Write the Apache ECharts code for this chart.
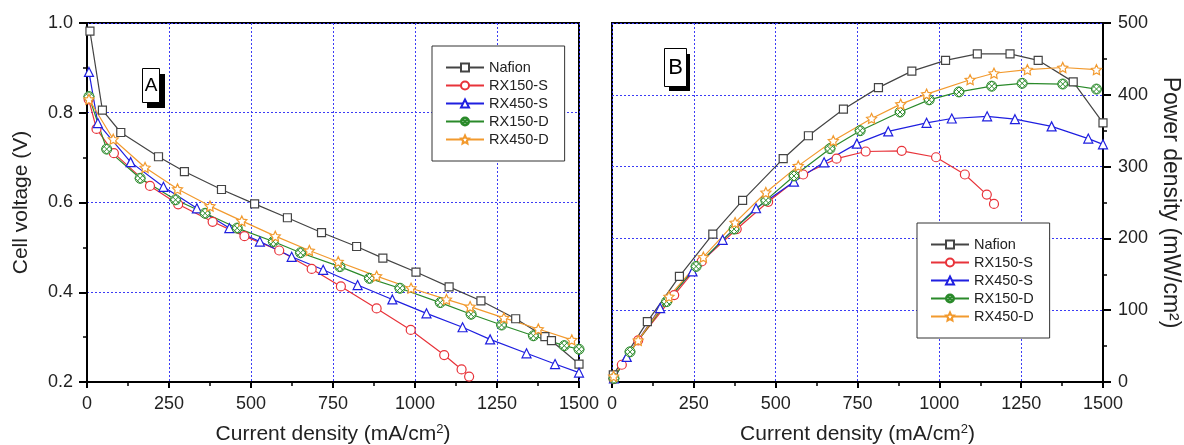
<!DOCTYPE html>
<html>
<head>
<meta charset="utf-8">
<script src="https://cdn.jsdelivr.net/npm/echarts@6/dist/echarts.min.js"></script>
<style>
  html, body { margin: 0; padding: 0; background: #fff; }
  #chart { width: 1184px; height: 445px; }
</style>
</head>
<body>
<div id="chart"></div>
<script>
// polarization curves (current density mA/cm2, cell voltage V)
var nafionV = [[9,0.982],[47,0.806],[103,0.756],[218,0.702],[297,0.669],[410,0.629],[511,0.597],[611,0.566],[715,0.533],[822,0.502],[902,0.476],[1003,0.445],[1104,0.412],[1201,0.381],[1307,0.341],[1396,0.301],[1416,0.292],[1500,0.240]];
var rx150sV = [[5,0.830],[29,0.764],[82,0.710],[192,0.637],[278,0.596],[383,0.557],[480,0.525],[586,0.493],[685,0.452],[774,0.413],[883,0.364],[987,0.316],[1089,0.260],[1142,0.228],[1165,0.212]];
var rx450sV = [[6,0.891],[33,0.777],[133,0.690],[233,0.635],[335,0.587],[434,0.543],[527,0.513],[624,0.479],[720,0.450],[825,0.416],[931,0.384],[1035,0.353],[1145,0.322],[1229,0.295],[1340,0.264],[1427,0.240],[1500,0.221]];
var rx150dV = [[6,0.836],[60,0.719],[162,0.654],[270,0.606],[360,0.576],[458,0.543],[568,0.513],[651,0.488],[771,0.457],[861,0.431],[954,0.409],[1077,0.377],[1171,0.351],[1264,0.327],[1361,0.303],[1455,0.281],[1500,0.273]];
var rx450dV = [[6,0.830],[80,0.741],[177,0.678],[276,0.630],[375,0.592],[472,0.559],[574,0.525],[678,0.493],[766,0.468],[883,0.436],[988,0.409],[1096,0.384],[1168,0.368],[1271,0.343],[1376,0.318],[1478,0.294]];

// power density curves (current density mA/cm2, mW/cm2)
var nafionP = [[4,10],[108,84],[206,147],[308,206],[399,253],[523,311],[600,343],[707,380],[814,410],[916,433],[1019,448],[1116,457],[1216,457],[1302,448],[1409,418],[1500,361]];
var rx150sP = [[5,4],[30,24],[80,58],[190,121],[274,168],[381,213],[477,251],[584,289],[686,311],[775,321],[885,322],[990,313],[1078,289],[1145,261],[1167,248]];
var rx450sP = [[6,5],[45,35],[147,103],[246,154],[338,198],[440,242],[556,279],[648,306],[748,332],[844,349],[961,361],[1038,367],[1146,370],[1231,366],[1343,356],[1455,339],[1500,331]];
var rx150dP = [[6,5],[55,42],[167,112],[257,161],[373,213],[470,253],[556,287],[666,325],[758,350],[880,376],[969,393],[1060,404],[1160,412],[1253,416],[1377,415],[1480,408]];
var rx450dP = [[5,8],[80,58],[174,119],[279,174],[376,222],[470,264],[569,301],[676,336],[793,367],[882,387],[961,401],[1094,421],[1167,430],[1269,435],[1377,438],[1480,435]];

var names = ['Nafion', 'RX150-S', 'RX450-S', 'RX150-D', 'RX450-D'];
var xTicks = [0, 250, 500, 750, 1000, 1250, 1500];

var FONT = '"Liberation Sans", Arial, sans-serif';
var starPath = 'path://M0,-10 L2.9,-4 L9.5,-3.1 L4.7,1.5 L5.9,8.1 L0,5 L-5.9,8.1 L-4.7,1.5 L-9.5,-3.1 L-2.9,-4 Z';
var hatchPath = 'path://M10,0 A10,10 0 1,1 -10,0 A10,10 0 1,1 10,0 Z M-7,-7 L7,7 M-7,7 L7,-7 M0,-10 L10,0 M-10,0 L0,10 M0,-10 L-10,0 M10,0 L0,10';

var styles = {
    'Nafion':  { color: '#444444', symbol: 'rect', size: 8, bw: 1.2 },
    'RX150-S': { color: '#e8333a', symbol: 'circle', size: 9, bw: 1.2 },
    'RX450-S': { color: '#1f1fe0', symbol: 'triangle', size: 9, bw: 1.2 },
    'RX150-D': { color: '#2a8a2a', symbol: hatchPath, size: 10, bw: 1 },
    'RX450-D': { color: '#f29a2e', symbol: starPath, size: 10, bw: 1.2 }
};

function mkSeries(name, data, idx) {
    var s = styles[name];
    return {
        name: name,
        type: 'line',
        xAxisIndex: idx,
        yAxisIndex: idx,
        data: data,
        symbol: s.symbol,
        symbolSize: s.size,
        showAllSymbol: true,
        lineStyle: { color: s.color, width: 1.2 },
        itemStyle: { color: '#fff', borderColor: s.color, borderWidth: s.bw },
        emphasis: { disabled: true }
    };
}

function xAxisCfg(idx) {
    return {
        gridIndex: idx,
        type: 'value',
        min: 0,
        max: 1500,
        interval: 250,
        axisLine: { show: true, onZero: false, lineStyle: { color: '#000', width: 2 } },
        axisTick: { show: true, length: 6, lineStyle: { color: '#000', width: 2 } },
        minorTick: { show: true, splitNumber: 2, length: 4, lineStyle: { color: '#000', width: 1.5 } },
        axisLabel: { fontSize: 18, color: '#222', margin: 13, fontFamily: FONT,
            formatter: function (v) { return xTicks.indexOf(v) >= 0 ? String(v) : ''; } },
        splitLine: { show: true, lineStyle: { color: '#3b3bf5', type: [2, 2], width: 1 } },
        name: '{a|Current density (mA/cm}{s|2}{a|)}',
        nameLocation: 'middle',
        nameGap: 41,
        nameTextStyle: {
            rich: {
                a: { fontSize: 21, color: '#222', fontFamily: FONT },
                s: { fontSize: 13, color: '#222', fontFamily: FONT, verticalAlign: 'top', padding: [0, 0, 10, 0] }
            }
        }
    };
}

function legendCfg(left, top) {
    return {
        data: names, orient: 'vertical', left: left, top: top,
        itemWidth: 38, itemHeight: 10, itemGap: 3,
        padding: [14, 16, 14, 13],
        borderColor: '#333', borderWidth: 1, backgroundColor: '#fff',
        textStyle: { fontSize: 14.5, color: '#222', fontFamily: FONT }
    };
}

var option = {
    animation: false,
    backgroundColor: '#fff',
    grid: [
        { left: 87, top: 23, width: 492, height: 359, outerBoundsMode: 'none', show: true, borderColor: '#000', borderWidth: 2, backgroundColor: 'transparent' },
        { left: 612, top: 23, width: 491, height: 359, outerBoundsMode: 'none', show: true, borderColor: '#000', borderWidth: 2, backgroundColor: 'transparent' }
    ],
    xAxis: [xAxisCfg(0), xAxisCfg(1)],
    yAxis: [
        {
            gridIndex: 0,
            type: 'value',
            min: 0.2,
            max: 1.0,
            interval: 0.2,
            axisLine: { show: true, onZero: false, lineStyle: { color: '#000', width: 2 } },
            axisTick: { show: true, length: 8, lineStyle: { color: '#000', width: 2 } },
            minorTick: { show: true, splitNumber: 2, length: 4, lineStyle: { color: '#000', width: 1.5 } },
            axisLabel: { fontSize: 18, color: '#222', margin: 14, fontFamily: FONT,
                formatter: function (v) { return v.toFixed(1); } },
            splitLine: { show: true, lineStyle: { color: '#3b3bf5', type: [2, 2], width: 1 } },
            name: 'Cell voltage (V)',
            nameLocation: 'middle',
            nameGap: 55,
            nameTextStyle: { fontSize: 21, color: '#222', fontFamily: FONT }
        },
        {
            gridIndex: 1,
            type: 'value',
            position: 'right',
            min: 0,
            max: 500,
            interval: 100,
            axisLine: { show: true, onZero: false, lineStyle: { color: '#000', width: 2 } },
            axisTick: { show: true, length: 8, lineStyle: { color: '#000', width: 2 } },
            minorTick: { show: true, splitNumber: 2, length: 4, lineStyle: { color: '#000', width: 1.5 } },
            axisLabel: { fontSize: 18, color: '#222', margin: 15, fontFamily: FONT },
            splitLine: { show: true, lineStyle: { color: '#3b3bf5', type: [2, 2], width: 1 } },
            name: 'Power density (mW/cm²)',
            nameLocation: 'middle',
            nameRotate: -90,
            nameGap: 56,
            nameTextStyle: { fontSize: 23, color: '#222', fontFamily: FONT }
        }
    ],
    legend: [legendCfg(432, 46), legendCfg(917, 223)],
    graphic: [
        { type: 'rect', left: 147, top: 74, shape: { width: 18, height: 34 }, style: { fill: '#000' } },
        { type: 'rect', left: 142, top: 68, shape: { width: 17, height: 34 }, style: { fill: '#fff', stroke: '#000', lineWidth: 1 } },
        { type: 'text', x: 151, y: 86, style: { text: 'A', font: '19px ' + FONT, fill: '#000', align: 'center', verticalAlign: 'middle' } },
        { type: 'rect', left: 669, top: 54, shape: { width: 21, height: 37 }, style: { fill: '#000' } },
        { type: 'rect', left: 664, top: 48, shape: { width: 22, height: 38 }, style: { fill: '#fff', stroke: '#000', lineWidth: 1 } },
        { type: 'text', x: 675.5, y: 68, style: { text: 'B', font: '22px ' + FONT, fill: '#000', align: 'center', verticalAlign: 'middle' } }
    ],
    series: [
        mkSeries('Nafion', nafionV, 0),
        mkSeries('RX150-S', rx150sV, 0),
        mkSeries('RX450-S', rx450sV, 0),
        mkSeries('RX150-D', rx150dV, 0),
        mkSeries('RX450-D', rx450dV, 0),
        mkSeries('Nafion', nafionP, 1),
        mkSeries('RX150-S', rx150sP, 1),
        mkSeries('RX450-S', rx450sP, 1),
        mkSeries('RX150-D', rx150dP, 1),
        mkSeries('RX450-D', rx450dP, 1)
    ]
};

var myChart = echarts.init(document.getElementById('chart'));
myChart.setOption(option);
</script>
</body>
</html>
